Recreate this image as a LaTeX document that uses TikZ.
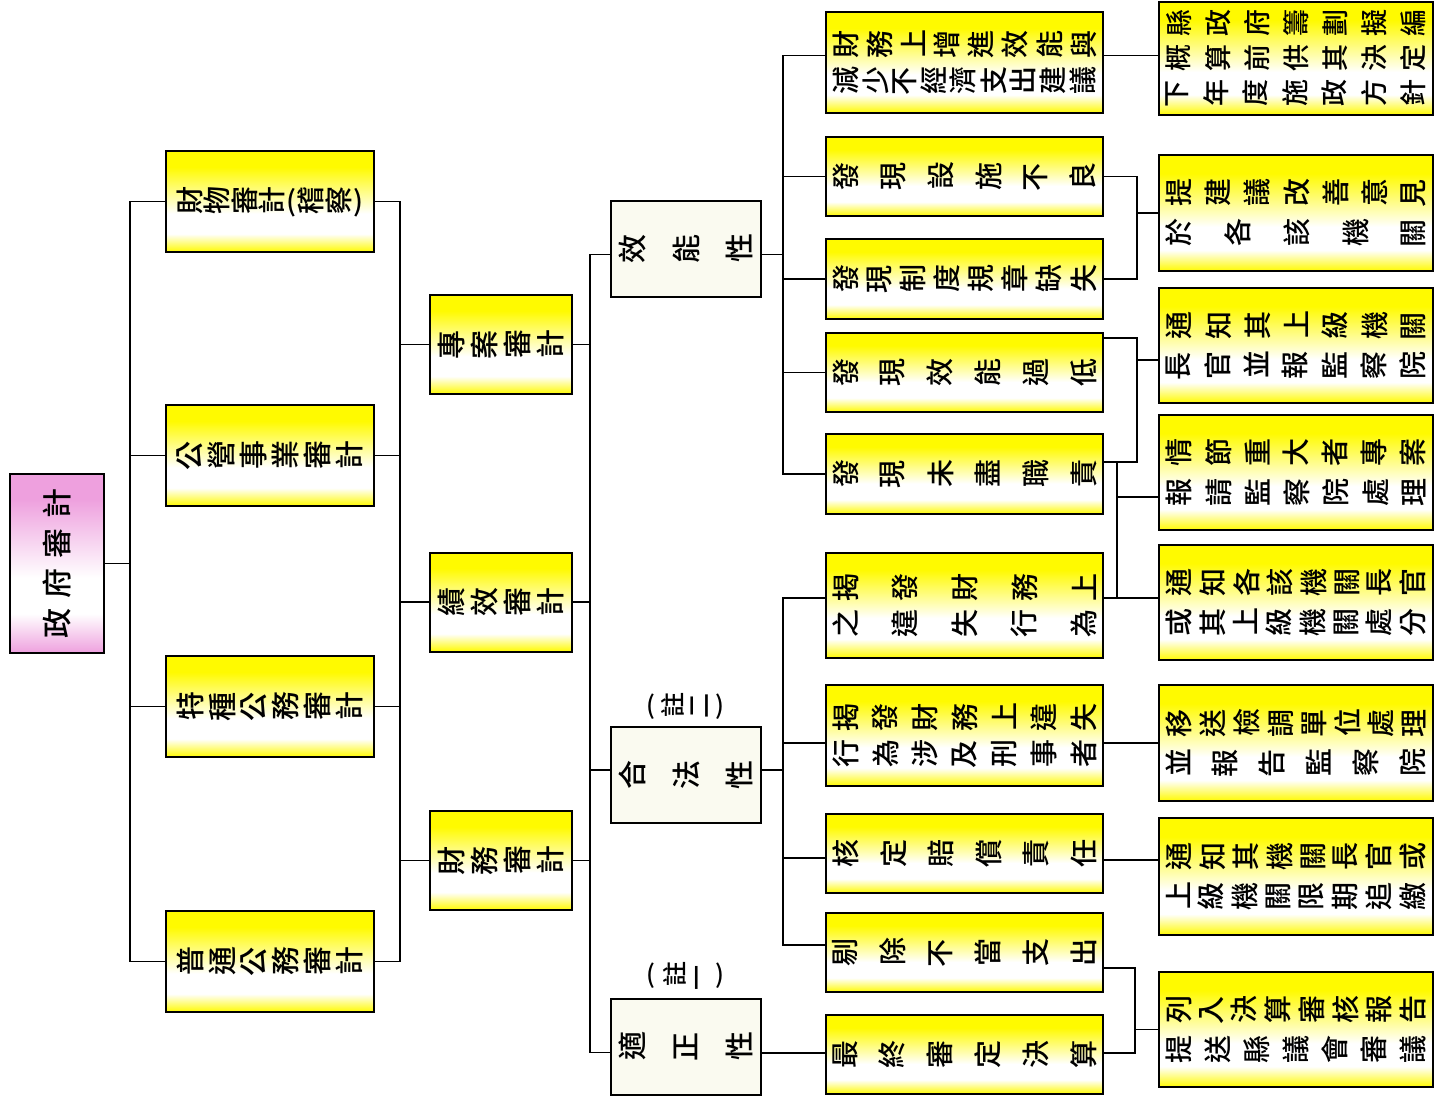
\documentclass[tikz,border=0pt]{standalone}
\usepackage{fontspec}
\usepackage{graphicx}
\newfontfamily\cjk{Noto Sans CJK TC Medium}
\ExplSyntaxOn
\bool_new:N \l_rs_first_bool
\cs_new_protected:Npn \rs_rc:n #1
  {
    \str_case:nnF {#1}
      { {(}{(} {)}{)} }
      { \rotatebox[origin=c]{90}{#1} }
  }
\NewDocumentCommand \rowtext { m m }
  {
    \hbox_to_wd:nn {#1}
      {
        \bool_set_true:N \l_rs_first_bool
        \tl_map_inline:nn {#2}
          {
            \bool_if:NF \l_rs_first_bool { \hfil }
            \bool_set_false:N \l_rs_first_bool
            \rs_rc:n {##1}
          }
      }
  }
\NewDocumentCommand \plainrow { m m }
  {
    \hbox_to_wd:nn {#1}
      {
        \bool_set_true:N \l_rs_first_bool
        \tl_map_inline:nn {#2}
          {
            \bool_if:NF \l_rs_first_bool { \hfil }
            \bool_set_false:N \l_rs_first_bool
            ##1
          }
      }
  }
\ExplSyntaxOff
\definecolor{yel}{RGB}{255,250,0}
\definecolor{pnk}{RGB}{238,160,222}
\definecolor{cream}{RGB}{250,250,240}
\pgfdeclareverticalshading{yshade}{100bp}{color(0bp)=(yel); color(25bp)=(yel); color(34bp)=(white); color(44bp)=(white); color(67bp)=(yel); color(100bp)=(yel)}
\pgfdeclareverticalshading{pshade}{100bp}{color(0bp)=(pnk); color(25bp)=(pnk); color(36bp)=(white); color(46bp)=(white); color(68bp)=(pnk); color(100bp)=(pnk)}
\tikzset{
  boxbase/.style={draw=black, line width=2pt, inner sep=0pt, align=center},
  ybox/.style={boxbase, shading=yshade},
  pbox/.style={boxbase, shading=pshade},
  wbox/.style={boxbase, fill=cream},
  fl/.style={font=\cjk\fontsize{29}{34}\selectfont},
  fs/.style={font=\cjk\fontsize{28}{36}\selectfont},
  ft/.style={font=\cjk\fontsize{27}{35}\selectfont},
  fm/.style={font=\cjk\fontsize{28}{40}\selectfont},
  lab/.style={inner sep=0pt, font=\cjk\fontsize{25}{28}\selectfont},
  conn/.style={line width=1.6pt, draw=black},
  lv1/.style={ybox, fl, minimum width=208pt, minimum height=101pt},
  lv2/.style={ybox, fl, minimum width=142pt, minimum height=99pt},
  lv3/.style={wbox, fl, minimum width=150pt, minimum height=96pt},
  lv4/.style={ybox, fs, minimum width=277pt},
  lv5/.style={ybox, fm, minimum width=274pt},
}
\begin{document}
\begin{tikzpicture}[x=1pt, y=-1pt]
\useasboundingbox (0,0) rectangle (1435,1105);
\fill[white] (0,0) rectangle (1435,1105);
% trunk coordinates
\coordinate (x130) at (130,0);
\coordinate (x400) at (400,0);
\coordinate (x590) at (590,0);
\coordinate (x783) at (783,0);
\coordinate (x1117) at (1117,0);
\coordinate (x1137) at (1137,0);
\coordinate (x1135) at (1135,0);

% root
\node[pbox, fl, minimum width=94pt, minimum height=179pt] (root) at (57,563.5) {\fontsize{30}{34}\selectfont\rotatebox{90}{\plainrow{150pt}{政府審計}}};

% level 1
\node[lv1] (e1) at (270,201.5) {\fontsize{28}{34}\selectfont\rowtext{186pt}{財物審計(稽察)}};
\node[lv1] (e2) at (270,455.5) {\rowtext{186pt}{公營事業審計}};
\node[lv1] (e3) at (270,706.5) {\rowtext{186pt}{特種公務審計}};
\node[lv1] (e4) at (270,961.5) {\rowtext{186pt}{普通公務審計}};

% level 2
\node[lv2] (d1) at (501,344.5) {\rowtext{126pt}{專案審計}};
\node[lv2] (d2) at (501,602) {\rowtext{126pt}{績效審計}};
\node[lv2] (d3) at (501,860.5) {\rowtext{126pt}{財務審計}};

% level 3
\node[lv3] (c1) at (686,248.5) {\rowtext{134pt}{效能性}};
\node[lv3] (c2) at (686,775) {\rowtext{134pt}{合法性}};
\node[lv3] (c3) at (686,1046.5) {\rowtext{134pt}{適正性}};
\node[lab] (n2) at (685,706) {\rowtext{78pt}{(註二)}};
\node[lab] (n1) at (685,976) {\rowtext{78pt}{(註一)}};

% level 4
\node[lv4, minimum height=101pt] (a1) at (964.5,62.5) {\rowtext{264pt}{財務上增進效能與}\\\rowtext{264pt}{減少不經濟支出建議}};
\node[lv4, minimum height=79pt] (a2) at (964.5,176.5) {\rowtext{264pt}{發現設施不良}};
\node[lv4, minimum height=80pt] (a3) at (964.5,279) {\rowtext{264pt}{發現制度規章缺失}};
\node[lv4, minimum height=79pt] (a4) at (964.5,372.5) {\rowtext{264pt}{發現效能過低}};
\node[lv4, minimum height=80pt] (a5) at (964.5,474) {\rowtext{264pt}{發現未盡職責}};
\node[lv4, minimum height=105pt] (a6) at (964.5,605.5) {\rowtext{264pt}{揭發財務上}\\\rowtext{264pt}{之違失行為}};
\node[lv4, minimum height=101pt] (a7) at (964.5,735.5) {\rowtext{264pt}{揭發財務上違失}\\\rowtext{264pt}{行為涉及刑事者}};
\node[lv4, minimum height=79pt] (a8) at (964.5,853.5) {\rowtext{264pt}{核定賠償責任}};
\node[lv4, minimum height=79pt] (a9) at (964.5,952.5) {\rowtext{264pt}{剔除不當支出}};
\node[lv4, minimum height=79pt] (a10) at (964.5,1054.5) {\rowtext{264pt}{最終審定決算}};

% level 5
\node[lv5, ft, minimum height=113pt] (b1) at (1296,58.5) {\rowtext{260pt}{縣政府籌劃擬編}\\\rowtext{260pt}{概算前供其決定}\\\rowtext{260pt}{下年度施政方針}};
\node[lv5, minimum height=116pt] (b2) at (1296,213) {\rowtext{260pt}{提建議改善意見}\\\rowtext{260pt}{於各該機關}};
\node[lv5, minimum height=115pt] (b3) at (1296,345.5) {\rowtext{260pt}{通知其上級機關}\\\rowtext{260pt}{長官並報監察院}};
\node[lv5, minimum height=115pt] (b4) at (1296,472.5) {\rowtext{260pt}{情節重大者專案}\\\rowtext{260pt}{報請監察院處理}};
\node[lv5, minimum height=115pt] (b5) at (1296,602.5) {\rowtext{260pt}{通知各該機關長官}\\\rowtext{260pt}{或其上級機關處分}};
\node[lv5, minimum height=116pt] (b6) at (1296,743) {\rowtext{260pt}{移送檢調單位處理}\\\rowtext{260pt}{並報告監察院}};
\node[lv5, minimum height=117pt] (b7) at (1296,876.5) {\rowtext{260pt}{通知其機關長官或}\\\rowtext{260pt}{上級機關限期追繳}};
\node[lv5, minimum height=115pt] (b8) at (1296,1029.5) {\rowtext{260pt}{列入決算審核報告}\\\rowtext{260pt}{提送縣議會審議}};

% connectors: root -> level 1
\draw[conn] (root.east) -- (root.east -| x130);
\draw[conn] (e1.west) -- (e1.west -| x130) -- (e4.west -| x130) -- (e4.west);
\draw[conn] (e2.west) -- (e2.west -| x130);
\draw[conn] (e3.west) -- (e3.west -| x130);
% level 1 -> level 2 bus
\draw[conn] (e1.east) -- (e1.east -| x400) -- (e4.east -| x400) -- (e4.east);
\draw[conn] (e2.east) -- (e2.east -| x400);
\draw[conn] (e3.east) -- (e3.east -| x400);
\draw[conn] (d1.west) -- (d1.west -| x400);
\draw[conn] (d2.west) -- (d2.west -| x400);
\draw[conn] (d3.west) -- (d3.west -| x400);
% level 2 -> level 3 bus
\draw[conn] (d1.east) -- (d1.east -| x590);
\draw[conn] (d2.east) -- (d2.east -| x590);
\draw[conn] (d3.east) -- (d3.east -| x590);
\draw[conn] ([yshift=-6pt]c1.west) -- ([yshift=-6pt]c1.west -| x590) -- ([yshift=-6pt]c3.west -| x590) -- ([yshift=-6pt]c3.west);
\draw[conn] ([yshift=5pt]c2.west) -- ([yshift=5pt]c2.west -| x590);
% efficiency branch
\draw[conn] ([yshift=-6pt]c1.east) -- ([yshift=-6pt]c1.east -| x783);
\draw[conn] ([yshift=7pt]a1.west) -- ([yshift=7pt]a1.west -| x783) -- (a5.west -| x783) -- (a5.west);
\draw[conn] (a2.west) -- (a2.west -| x783);
\draw[conn] (a3.west) -- (a3.west -| x783);
\draw[conn] (a4.west) -- (a4.west -| x783);
% legality branch
\draw[conn] ([yshift=5pt]c2.east) -- ([yshift=5pt]c2.east -| x783);
\draw[conn] ([yshift=7.5pt]a6.west) -- ([yshift=7.5pt]a6.west -| x783) -- ([yshift=7.5pt]a9.west -| x783) -- ([yshift=7.5pt]a9.west);
\draw[conn] ([yshift=-7.5pt]a7.west) -- ([yshift=-7.5pt]a7.west -| x783);
\draw[conn] ([yshift=-4.5pt]a8.west) -- ([yshift=-4.5pt]a8.west -| x783);
% propriety branch
\draw[conn] ([yshift=1.5pt]a10.west -| c3.east) -- ([yshift=1.5pt]a10.west);
% level 4 -> level 5
\draw[conn] ([yshift=7pt]a1.east) -- ([yshift=7pt]a1.east -| b1.west);
\draw[conn] (a2.east) -- (a2.east -| x1137) -- (a3.east -| x1137) -- (a3.east);
\draw[conn] (b2.west) -- (b2.west -| x1137);
\draw[conn] ([yshift=34.5pt]a4.east) -- ([yshift=34.5pt]a4.east -| x1137) -- ([yshift=12pt]a5.east -| x1137) -- ([yshift=12pt]a5.east);
\draw[conn] ([yshift=-14.5pt]b3.west) -- ([yshift=-14.5pt]b3.west -| x1137);
\draw[conn] ([yshift=12pt]a5.east -| x1117) -- ([yshift=7.5pt]a6.east -| x1117);
\draw[conn] ([yshift=-24.5pt]b4.west) -- ([yshift=-24.5pt]b4.west -| x1117);
\draw[conn] ([yshift=7.5pt]a6.east) -- ([yshift=7.5pt]a6.east -| b5.west);
\draw[conn] ([yshift=-7.5pt]a7.east) -- ([yshift=-7.5pt]a7.east -| b6.west);
\draw[conn] ([yshift=-6.5pt]a8.east) -- ([yshift=-6.5pt]a8.east -| b7.west);
\draw[conn] ([yshift=-15.5pt]a9.east) -- ([yshift=-15.5pt]a9.east -| x1135) -- ([yshift=1.5pt]a10.east -| x1135) -- ([yshift=1.5pt]a10.east);
\draw[conn] (b8.west) -- (b8.west -| x1135);
\end{tikzpicture}
\end{document}
